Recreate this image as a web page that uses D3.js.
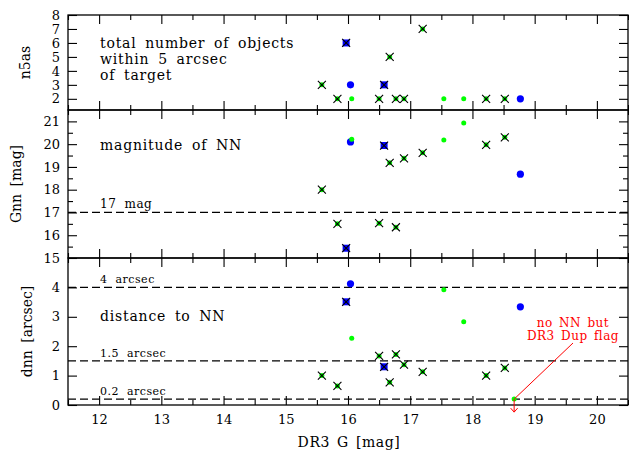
<!DOCTYPE html>
<html>
<head>
<meta charset="utf-8">
<script src="https://cdn.jsdelivr.net/npm/d3@7"></script>
<style>
  body { margin: 0; background: #fff; }
  text { font-family: "DejaVu Serif", serif; fill: #000; }
</style>
</head>
<body>
<div id="chart"></div>
<script>
'use strict';

// targets marked with a cross (green dot + black x)
const crossG    = [15.58, 15.83, 16.50, 16.67, 16.77, 16.90, 17.20, 18.22, 18.52]
const crossN5   = [3, 2, 2, 5, 2, 2, 7, 2, 2]
const crossGnn  = [18.0, 16.5, 16.53, 19.18, 16.35, 19.38, 19.62, 19.97, 20.3]
const crossDnn  = [1.0, 0.65, 1.67, 0.77, 1.72, 1.37, 1.13, 1.0, 1.26]

// blue square + black x
const squareG   = [15.97, 16.58]
const squareN5  = [6, 3]
const squareGnn = [15.43, 19.94]
const squareDnn = [3.51, 1.30]

// blue circles
const circleG   = [16.04, 18.77]
const circleN5  = [3, 2]
const circleGnn = [20.1, 18.68]
const circleDnn = [4.12, 3.34]

// plain green dots
const dotG      = [16.06, 17.54, 17.86]
const dotN5     = [2, 2, 2]
const dotGnn    = [20.22, 20.18, 20.93]
const dotDnn    = [2.27, 3.92, 2.83]

// no NN but DR3 duplicated flag (only in the distance panel)
const dupG      = [18.67]
const dupDnn    = [0.2]

const xTicks    = [12, 13, 14, 15, 16, 17, 18, 19, 20]
const n5Ticks   = [2, 3, 4, 5, 6, 7, 8]
const gnnTicks  = [15, 16, 17, 18, 19, 20, 21]
const dnnTicks  = [0, 1, 2, 3, 4]

const gnnLines  = [{ v: 17, label: '17 mag' }]
const dnnLines  = [
  { v: 4, label: '4 arcsec' },
  { v: 1.5, label: '1.5 arcsec' },
  { v: 0.2, label: '0.2 arcsec' }
]

const width = 629, height = 450
const left = 68, right = 628

const svg = d3.select('#chart').append('svg')
  .attr('width', width)
  .attr('height', height)

const x = d3.scaleLinear().domain([11.5, 20.5]).range([left, right])

const panels = [
  { key: 'n5', top: 15, bottom: 110, domain: [1.2, 8], ticks: n5Ticks, minor: [],
    title: 'n5as', titleX: 25,
    note: ['total number of objects', 'within 5 arcsec', 'of target'], noteY: 48 },
  { key: 'gnn', top: 110, bottom: 258, domain: [15, 21.5], ticks: gnnTicks,
    minor: d3.range(15.5, 21.5, 1),
    title: 'Gnn [mag]', titleX: 16, note: ['magnitude of NN'], noteY: 150, lines: gnnLines },
  { key: 'dnn', top: 258, bottom: 405, domain: [0, 5], ticks: dnnTicks, minor: [],
    title: 'dnn [arcsec]', titleX: 27, note: ['distance to NN'], noteY: 321, lines: dnnLines }
]

const xMinor = d3.range(11.5, 20.6, 1)

function drawPanel(p) {
  const y = d3.scaleLinear().domain(p.domain).range([p.bottom, p.top])
  p.y = y
  const g = svg.append('g')

  // left axis with labels
  g.append('g').attr('transform', `translate(${left},0)`)
    .call(d3.axisLeft(y).tickValues(p.ticks).tickSizeInner(-9).tickSizeOuter(0).tickPadding(8).tickFormat(d3.format('d')))
  g.append('g').attr('transform', `translate(${left},0)`)
    .call(d3.axisLeft(y).tickValues(p.minor).tickSizeInner(-5).tickSizeOuter(0).tickFormat(''))
  // right axis, ticks only
  g.append('g').attr('transform', `translate(${right},0)`)
    .call(d3.axisRight(y).tickValues(p.ticks).tickSizeInner(-9).tickSizeOuter(0).tickFormat(''))
  g.append('g').attr('transform', `translate(${right},0)`)
    .call(d3.axisRight(y).tickValues(p.minor).tickSizeInner(-5).tickSizeOuter(0).tickFormat(''))

  // x ticks top and bottom of each panel
  g.append('g').attr('transform', `translate(0,${p.top})`)
    .call(d3.axisTop(x).tickValues(xTicks).tickSizeInner(-9).tickSizeOuter(0).tickFormat(''))
  g.append('g').attr('transform', `translate(0,${p.top})`)
    .call(d3.axisTop(x).tickValues(xMinor).tickSizeInner(-5).tickSizeOuter(0).tickFormat(''))
  g.append('g').attr('transform', `translate(0,${p.bottom})`)
    .call(d3.axisBottom(x).tickValues(xTicks).tickSizeInner(-9).tickSizeOuter(0).tickPadding(10)
      .tickFormat(p.key === 'dnn' ? d3.format('d') : ''))
  g.append('g').attr('transform', `translate(0,${p.bottom})`)
    .call(d3.axisBottom(x).tickValues(xMinor).tickSizeInner(-5).tickSizeOuter(0).tickFormat(''))

  g.selectAll('.domain').remove()
  g.selectAll('.tick line').attr('stroke', '#000').attr('stroke-width', 1.1)
  g.selectAll('.tick text').attr('font-family', '"DejaVu Serif", serif').attr('font-size', 13).attr('fill', '#000')

  // frame
  g.append('rect')
    .attr('x', left).attr('y', p.top)
    .attr('width', right - left).attr('height', p.bottom - p.top)
    .attr('fill', 'none').attr('stroke', '#000').attr('stroke-width', 1.3)

  // y title
  g.append('text')
    .attr('transform', `translate(${p.titleX},${(p.top + p.bottom) / 2}) rotate(-90)`)
    .attr('text-anchor', 'middle')
    .attr('dominant-baseline', 'central')
    .attr('font-size', 14)
    .attr('word-spacing', 3)
    .text(p.title)

  // panel note
  g.append('g').selectAll('text').data(p.note).join('text')
    .attr('x', 100)
    .attr('y', (d, i) => p.noteY + i * 16)
    .attr('font-size', 14)
    .attr('letter-spacing', 0.8)
    .attr('word-spacing', 3.5)
    .text(d => d)

  // dashed reference lines
  if (p.lines) {
    g.append('g').selectAll('line').data(p.lines).join('line')
      .attr('x1', left).attr('x2', right)
      .attr('y1', d => y(d.v)).attr('y2', d => y(d.v))
      .attr('stroke', '#000').attr('stroke-width', 1.2)
      .attr('stroke-dasharray', '8,4')
    g.append('g').selectAll('text').data(p.lines).join('text')
      .attr('x', 100)
      .attr('y', d => y(d.v) - 4)
      .attr('font-size', p.key === 'gnn' ? 12 : 11)
      .attr('letter-spacing', 0.5)
      .attr('word-spacing', 4)
      .text(d => d.label)
  }
}

panels.forEach(drawPanel)

function values(p) {
  if (p.key === 'n5') return { cross: crossN5, square: squareN5, circle: circleN5, dot: dotN5 }
  if (p.key === 'gnn') return { cross: crossGnn, square: squareGnn, circle: circleGnn, dot: dotGnn }
  return { cross: crossDnn, square: squareDnn, circle: circleDnn, dot: dotDnn }
}

const xPath = 'M-4,-4L4,4M-4,4L4,-4'

panels.forEach(p => {
  const v = values(p)
  const y = p.y
  const g = svg.append('g')

  g.selectAll('.circ').data(circleG).join('circle')
    .attr('cx', d => x(d)).attr('cy', (d, i) => y(v.circle[i]))
    .attr('r', 3.6).attr('fill', '#0000ff')

  g.selectAll('.dot').data(dotG).join('circle')
    .attr('cx', d => x(d)).attr('cy', (d, i) => y(v.dot[i]))
    .attr('r', 2.5).attr('fill', '#00ff00')

  if (p.key === 'dnn') {
    g.selectAll('.dup').data(dupG).join('circle')
      .attr('cx', d => x(d)).attr('cy', (d, i) => y(dupDnn[i]))
      .attr('r', 2.5).attr('fill', '#00ff00')
  }

  const sq = g.selectAll('.sq').data(squareG).join('g')
    .attr('transform', (d, i) => `translate(${x(d)},${y(v.square[i])})`)
  sq.append('rect').attr('x', -3.5).attr('y', -3.5).attr('width', 7).attr('height', 7).attr('fill', '#0000ff')
  sq.append('path').attr('d', xPath).attr('stroke', '#000').attr('stroke-width', 1.1)

  const cr = g.selectAll('.cr').data(crossG).join('g')
    .attr('transform', (d, i) => `translate(${x(d)},${y(v.cross[i])})`)
  cr.append('circle').attr('r', 2.5).attr('fill', '#00ff00')
  cr.append('path').attr('d', xPath).attr('stroke', '#000').attr('stroke-width', 1.1)
})

// x title
svg.append('text')
  .attr('x', 349).attr('y', 447)
  .attr('text-anchor', 'middle')
  .attr('font-size', 14)
  .attr('letter-spacing', 0.6)
  .attr('word-spacing', 2)
  .text('DR3 G [mag]')

// red annotation
const dnnY = panels[2].y
const px = x(dupG[0]), py = dnnY(dupDnn[0])
const ann = svg.append('g')
ann.selectAll('text').data(['no NN but', 'DR3 Dup flag']).join('text')
  .attr('x', 573).attr('y', (d, i) => 327 + i * 13)
  .attr('text-anchor', 'middle')
  .attr('font-size', 12)
  .attr('letter-spacing', 0.5)
  .attr('word-spacing', 2)
  .style('fill', '#ff0000')
  .text(d => d)
ann.append('line')
  .attr('x1', 573).attr('y1', 343).attr('x2', px).attr('y2', py)
  .attr('stroke', '#ff0000').attr('stroke-width', 1)
ann.append('path')
  .attr('d', `M${px},${py}L${px},${py + 13}M${px - 3.5},${py + 9}L${px},${py + 13}L${px + 3.5},${py + 9}`)
  .attr('fill', 'none').attr('stroke', '#ff0000').attr('stroke-width', 1)
</script>
</body>
</html>
